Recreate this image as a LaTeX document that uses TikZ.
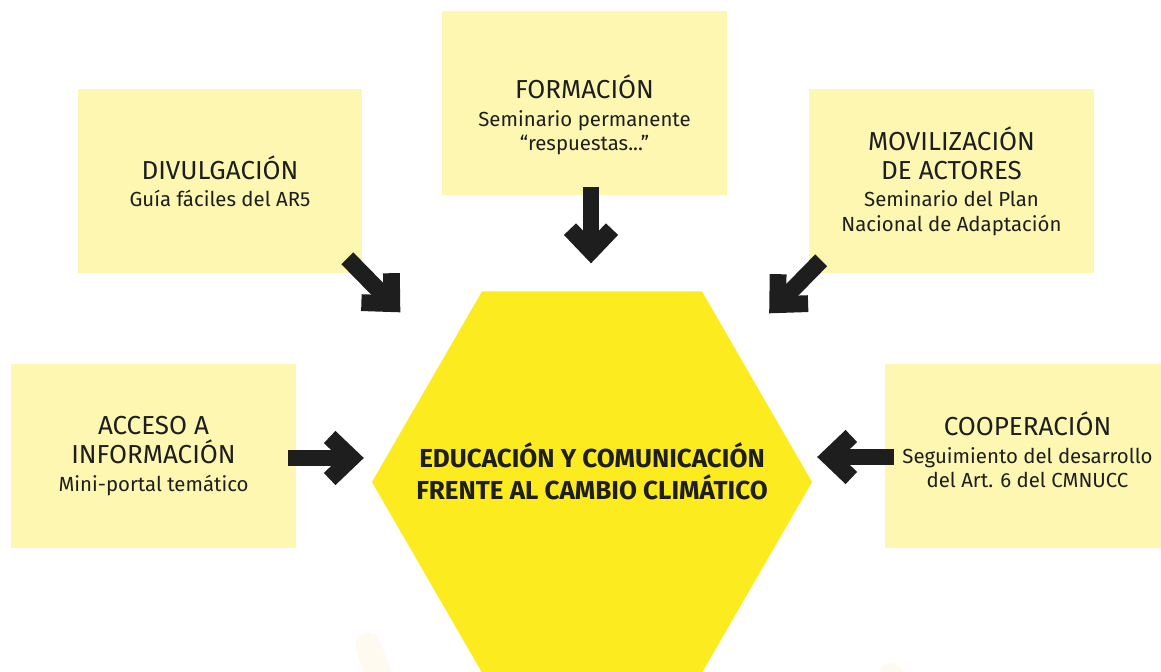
\documentclass[tikz,border=0pt]{standalone}
\usepackage{fontspec}
\setmainfont{Fira Sans}
\usetikzlibrary{arrows.meta,shapes.geometric,positioning}

\definecolor{amarillo}{HTML}{FCEB1E}
\definecolor{crema}{HTML}{FDF7B2}
\definecolor{negro}{HTML}{1E1E1E}
\definecolor{sombra}{HTML}{FFFAEF}

\begin{document}
\begin{tikzpicture}[x=0.025cm, y=-0.025cm,
        caja/.style={rectangle, fill=crema, minimum width=7.1cm, minimum height=4.6cm,
                     align=center, text=negro, font=\fontsize{14.5}{17.5}\selectfont},
        texto/.style={align=center, text=negro, font=\fontsize{14.5}{17.5}\selectfont},
        flecha/.style={draw=negro, line width=0.42cm,
                       -{Straight Barb[sharp, length=0.55cm, width=1.05cm]}},
        hexa/.style={regular polygon, regular polygon sides=6, minimum size=11cm,
                     inner sep=0pt, fill=amarillo},
        lema/.style={align=center, text=negro,
                     font=\bfseries\fontsize{18.5}{22.7}\selectfont}]
        \useasboundingbox (0,0) rectangle (1161,671);

        % faint marks at the bottom
        \draw [sombra, line width=0.65cm, line cap=round] (368,646) -- (388,700);
        \draw [sombra, line width=0.65cm, line cap=round] (891,676) -- (884,700);

        \node [hexa] (centro) at (592,482) {};
        \node [lema] (lematxt) at ([shift={(0,-11)}]centro.center)
              {EDUCACIÓN Y COMUNICACIÓN\\ FRENTE AL CAMBIO CLIMÁTICO};

        \node [caja] (divul) at (220,181)
              {{\fontsize{18.5}{21}\selectfont DIVULGACIÓN}\\[2pt]
               Guía fáciles del AR5};
        \node [caja] (formacion) at (584.5,103) {};
        \node [texto] (formaciontxt) at ([shift={(0,12)}]formacion.center)
              {{\fontsize{18.5}{21}\selectfont FORMACIÓN}\\[2pt]
               Seminario permanente\\ “respuestas...”};
        \node [caja] (moviliz) at (951.5,181)
              {{\fontsize{18.5}{21}\selectfont MOVILIZACIÓN}\\[3pt]
               {\fontsize{18.5}{21}\selectfont DE ACTORES}\\[2pt]
               Seminario del Plan\\ Nacional de Adaptación};
        \node [caja] (acceso) at (153.5,456)
              {{\fontsize{18.5}{21}\selectfont ACCESO A}\\[3pt]
               {\fontsize{18.5}{21}\selectfont INFORMACIÓN}\\[2pt]
               Mini-portal temático};
        \node [caja] (cooper) at (1027.5,456) {};
        \node [texto] (coopertxt) at ([shift={(0,-6)}]cooper.center)
              {{\fontsize{18.5}{21}\selectfont COOPERACIÓN}\\[2pt]
               Seguimiento del desarrollo\\ del Art. 6 del CMNUCC};

        \draw [flecha] ([shift={(-15,-15)}]divul.south east)
                    -- ([shift={(38,39)}]divul.south east);
        \draw [flecha] ([shift={(6.5,-8)}]formacion.south)
                    -- ([shift={(6.5,68)}]formacion.south);
        \draw [flecha] ([shift={(12,-13)}]moviliz.south west)
                    -- ([shift={(-40,40)}]moviliz.south west);
        \draw [flecha] ([shift={(-8,2)}]acceso.east)
                    -- ([shift={(68,2)}]acceso.east);
        \draw [flecha] ([shift={(9,1)}]cooper.west)
                    -- ([shift={(-68,1)}]cooper.west);
\end{tikzpicture}
\end{document}
